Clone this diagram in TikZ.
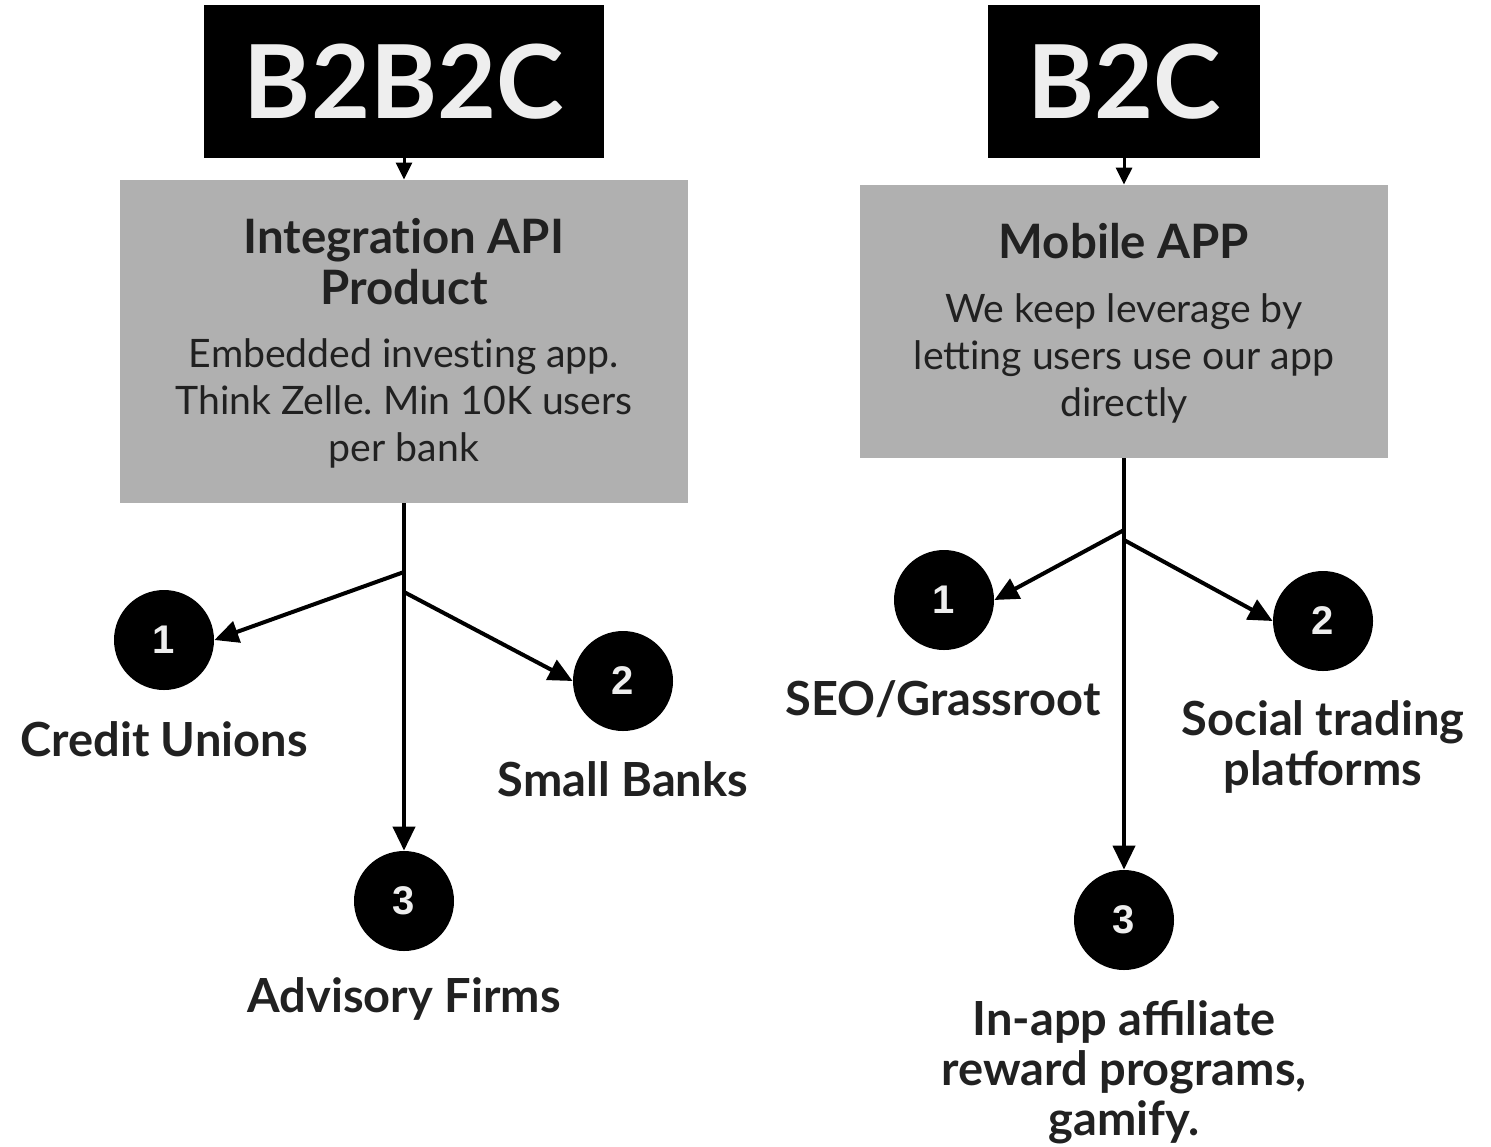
\documentclass[tikz,border=0pt]{standalone}
\usepackage{fontspec}
\setmainfont{Lato}
\newfontfamily\digitfont{Liberation Sans}
\usetikzlibrary{positioning, arrows.meta}
\definecolor{panelgray}{RGB}{176,176,176}
\definecolor{lightink}{RGB}{238,238,238}
\definecolor{darkink}{RGB}{33,33,33}
\newcommand{\tbrk}{\kern0pt}
\frenchspacing

\begin{document}
\begin{tikzpicture}[
    x=0.5pt, y=-0.5pt,
    tagbox/.style={fill=black, text=lightink, inner sep=0pt,
                   minimum height=76.5pt,
                   font=\fontsize{51}{53}\selectfont\bfseries},
    panel/.style={fill=panelgray, inner sep=0pt},
    head/.style={font=\fontsize{23.7}{25.5}\selectfont\bfseries,
                 text=darkink, align=center, inner sep=0pt},
    body/.style={font=\fontsize{19.6}{23.5}\selectfont,
                 text=darkink, align=center, inner sep=0pt},
    num/.style={circle, fill=black, minimum size=50pt, inner sep=0pt,
                text=lightink, font=\digitfont\fontsize{20}{20}\selectfont\bfseries},
    lab/.style={font=\fontsize{23.5}{25}\selectfont\bfseries,
                text=darkink, align=center, inner sep=0pt},
    line/.style={-{Triangle[length=12pt, width=11pt]}, line width=2pt},
    link/.style={-{Triangle[length=8.5pt, width=8pt]}, line width=1.5pt},
  ]
  \useasboundingbox (0,0) rectangle (1491,1146);
  % ---- B2B2C side ----
  \node[tagbox, minimum width=200pt] (b2b2c) at (404,81.5) {B2B2C};
  \node[panel, minimum width=284pt, minimum height=161.5pt] (api) at (404,341.5) {};
  \node[head] (apihead) at (404,262) {Integrat\tbrk ion API\\Product};
  \node[body] (apibody) at (404,403) {Embedded invest\tbrk ing app.\\Think Zelle. Min 10K users\\per bank};
  \node[num] (lone)   at (164,640) {1};
  \node[num] (ltwo)   at (623,681) {2};
  \node[num] (lthree) at (404,901) {3};
  \node[lab] (credit)   at (164,739) {Credit Unions};
  \node[lab] (banks)    at (623,779) {Small Banks};
  \node[lab] (advisory) at (404,999) {Advisory Firms};
  % ---- B2C side ----
  \node[tagbox, minimum width=136pt] (b2c) at (1124,81.5) {B2C};
  \node[panel, minimum width=264pt, minimum height=136.5pt] (app) at (1124,321.5) {};
  \node[head] (apphead) at (1124,241) {Mobile APP};
  \node[body] (appbody) at (1124,358) {We keep leverage by\\lett\tbrk ing users use our app\\directly};
  \node[num] (rone)   at (944,600) {1};
  \node[num] (rtwo)   at (1323,621) {2};
  \node[num] (rthree) at (1124,920) {3};
  \node[lab] (seo)     at (943,699) {SEO/Grassroot};
  \node[lab] (social)  at (1323,747) {Social trading\\platforms};
  \node[lab] (reward)  at (1124,1072) {In-app affiliate\\reward programs,\\gamify.};
  % ---- split points on the trunks ----
  \coordinate (lsplitA) at (404,572);
  \coordinate (lsplitB) at (404,592);
  \coordinate (rsplitA) at (1124,530);
  \coordinate (rsplitB) at (1124,540);
  % ---- arrows ----
  \draw[link] (b2b2c) -- (api);
  \draw[link] (b2c) -- (app);
  \draw[line] (api) -- (lthree);
  \draw[line] (lsplitA) -- (lone.east);
  \draw[line] (lsplitB) -- (ltwo.west);
  \draw[line] (app) -- (rthree);
  \draw[line] (rsplitA) -- (rone.east);
  \draw[line] (rsplitB) -- (rtwo.west);
\end{tikzpicture}
\end{document}
